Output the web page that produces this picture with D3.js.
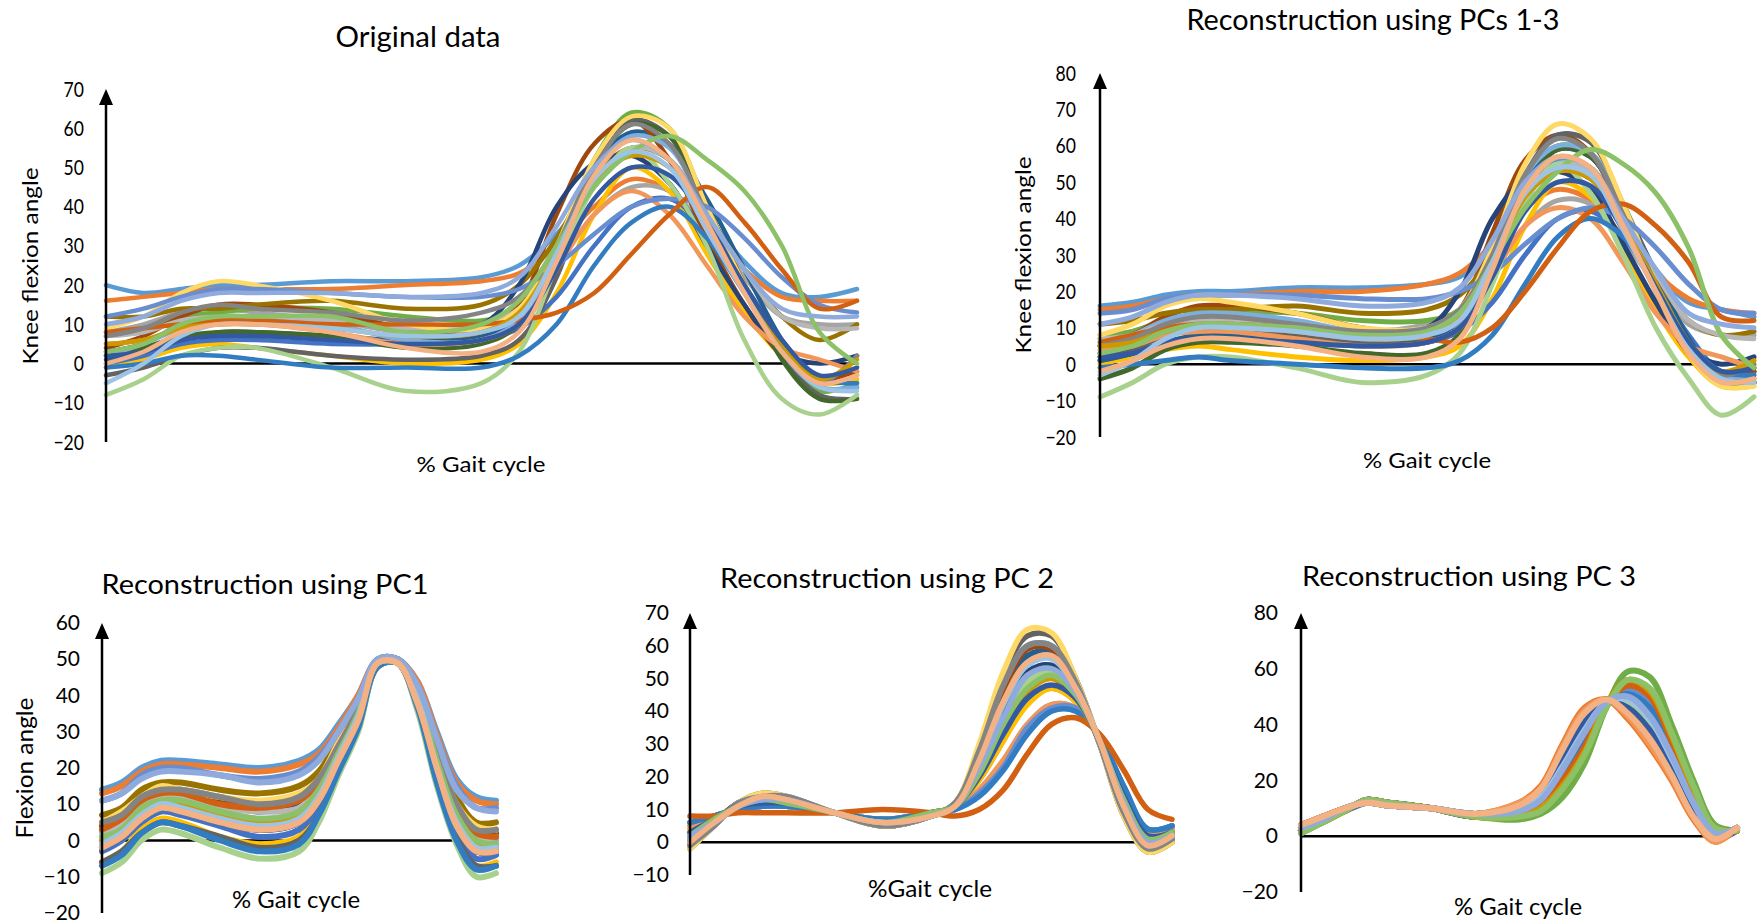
<!DOCTYPE html>
<meta charset="utf-8">
<style>
  body { margin: 0; background: #fff; }
  svg text { font-family: Lato, "Open Sans", sans-serif; fill: #000; }
</style>
<svg width="1763" height="924"></svg>
<script src="https://d3js.org/d3.v7.min.js"></script>
<script>
// % of gait cycle where each angle was read
var gaitPct = [0, 5, 10, 15, 20, 30, 40, 50, 55, 60, 65, 70, 75, 80, 85, 90, 95, 100]

// one colour per subject, in drawing order
var seriesColors = ['#5B9BD5', '#ED7D31', '#A5A5A5', '#FFC000', '#4472C4', '#70AD47', '#255E91', '#9E480E', '#636363',
  '#997300', '#264478', '#43682B', '#7CAFDD', '#F1975A', '#B7B7B7', '#FFD966', '#698ED0', '#A9D18E', '#327DC2',
  '#D26012', '#848484', '#CC9A00', '#335AA1', '#8CC168', '#9DC3E6', '#8FAADC', '#F4B183']

var originalAngles = [
  [20, 18, 19, 20, 20, 21, 21, 22, 25, 33, 45, 55, 52, 38, 26, 18, 17, 19],
  [16, 17, 18, 19, 19, 19, 20, 21, 23, 30, 40, 47, 44, 34, 24, 17, 16, 16],
  [8, 10, 13, 14, 13, 11, 8, 10, 15, 25, 38, 45, 44, 34, 22, 12, 10, 10],
  [-1, 1, 4, 5, 4, 2, 0, 1, 5, 18, 38, 50, 44, 28, 13, 2, -5, -4],
  [0, 2, 5, 6, 6, 5, 5, 6, 9, 17, 30, 40, 42, 34, 20, 6, -4, -3],
  [7, 9, 12, 13, 14, 14, 12, 11, 14, 30, 52, 64, 60, 40, 20, 3, -7, -5],
  [1, 3, 6, 8, 8, 7, 6, 7, 12, 30, 50, 59, 56, 42, 24, 6, -6, -6],
  [4, 7, 12, 15, 15, 13, 9, 8, 15, 38, 56, 62, 52, 32, 15, 2, -4, -2],
  [-3, -1, 2, 4, 4, 2, 1, 2, 6, 22, 48, 62, 58, 40, 20, 2, -8, -9],
  [12, 12, 14, 14, 15, 16, 14, 15, 20, 32, 48, 55, 52, 38, 24, 12, 6, 10],
  [3, 5, 10, 12, 12, 11, 9, 10, 20, 40, 51, 53, 46, 30, 15, 3, 0, 2],
  [2, 4, 7, 8, 8, 7, 4, 5, 10, 28, 50, 61, 58, 40, 20, 1, -9, -9],
  [2, 5, 9, 11, 11, 10, 6, 6, 11, 28, 49, 58, 55, 38, 20, 3, -6, -6],
  [5, 6, 9, 10, 10, 8, 5, 6, 10, 24, 38, 44, 38, 25, 12, 4, 1, -2],
  [7, 8, 11, 12, 12, 11, 9, 10, 14, 26, 45, 55, 52, 38, 24, 12, 9, 9],
  [9, 12, 18, 21, 20, 16, 10, 9, 14, 30, 52, 63, 60, 40, 20, 3, -5, -3],
  [12, 14, 17, 19, 19, 18, 17, 17, 19, 25, 33, 40, 42, 40, 32, 22, 15, 13],
  [-8, -4, 2, 4, 4, -1, -7, -5, 3, 25, 45, 55, 46, 30, 6, -9, -13, -8],
  [-1, 0, 2, 2, 1, -1, -1, -1, 2, 10, 25, 36, 40, 32, 18, 4, -4, -5],
  [8, 9, 10, 11, 11, 10, 10, 10, 11, 13, 18, 28, 38, 45, 36, 24, 14, 16],
  [7, 9, 13, 15, 14, 13, 11, 13, 17, 30, 50, 61, 56, 38, 19, 3, -5, 2],
  [5, 6, 9, 10, 10, 9, 7, 8, 13, 28, 46, 53, 50, 36, 20, 5, -4, 1],
  [2, 3, 6, 7, 7, 6, 5, 6, 10, 24, 42, 50, 48, 36, 20, 6, -3, -1],
  [3, 5, 10, 12, 12, 12, 8, 10, 16, 30, 45, 54, 58, 52, 44, 30, 8, 0],
  [-5, 0, 7, 10, 10, 9, 7, 8, 12, 28, 47, 54, 50, 34, 18, 3, -6, -7],
  [10, 12, 16, 18, 18, 18, 17, 18, 22, 35, 50, 57, 52, 38, 24, 14, 12, 12],
  [0, 3, 8, 10, 10, 8, 4, 3, 8, 26, 48, 57, 52, 36, 18, 3, -5, -3]
]

var pcs13Angles = [
  [16, 17, 19, 20, 20, 21, 21, 22, 24, 32, 45, 56, 54, 40, 26, 17, 15, 13],
  [15, 16, 18, 19, 19, 20, 20, 22, 25, 33, 43, 48, 45, 35, 25, 18, 15, 14],
  [8, 9, 12, 13, 13, 11, 9, 11, 15, 25, 38, 45, 44, 34, 22, 11, 8, 8],
  [0, 2, 4, 5, 4, 2, 1, 2, 5, 18, 38, 50, 46, 32, 15, 2, -6, -6],
  [1, 3, 6, 7, 7, 6, 5, 6, 9, 17, 30, 40, 42, 35, 22, 8, -2, -2],
  [7, 9, 12, 13, 14, 14, 12, 12, 15, 30, 52, 60, 58, 42, 22, 4, -4, -4],
  [1, 3, 6, 8, 8, 7, 6, 7, 12, 30, 50, 59, 57, 43, 25, 7, -4, -5],
  [5, 8, 13, 16, 16, 14, 10, 9, 15, 36, 56, 63, 58, 40, 20, 3, -4, -2],
  [2, 4, 8, 10, 10, 8, 6, 6, 10, 28, 52, 63, 61, 44, 24, 4, -5, -5],
  [11, 12, 14, 15, 15, 16, 14, 15, 19, 30, 46, 53, 51, 39, 25, 12, 8, 9],
  [3, 5, 10, 12, 12, 11, 9, 10, 20, 40, 51, 53, 48, 33, 17, 4, 0, 2],
  [-4, -1, 4, 6, 6, 5, 3, 3, 8, 26, 48, 59, 57, 42, 22, 4, -5, -5],
  [5, 8, 12, 14, 14, 12, 9, 10, 14, 32, 52, 60, 58, 42, 22, 4, -3, -3],
  [4, 5, 8, 9, 9, 7, 5, 6, 10, 24, 38, 43, 40, 28, 14, 5, 2, -1],
  [7, 8, 11, 12, 12, 11, 9, 10, 14, 26, 45, 55, 53, 40, 25, 12, 8, 7],
  [8, 11, 16, 18, 17, 14, 10, 10, 15, 32, 55, 66, 62, 44, 22, 3, -6, -6],
  [14, 15, 18, 19, 19, 19, 18, 18, 20, 25, 33, 40, 43, 40, 32, 22, 15, 14],
  [-9, -5, 0, 2, 2, -1, -5, -3, 3, 22, 45, 55, 47, 30, 10, -4, -14, -9],
  [-1, 0, 1, 2, 1, 0, -1, -1, 1, 8, 22, 35, 40, 35, 22, 6, -2, -3],
  [6, 8, 10, 11, 11, 10, 8, 7, 6, 10, 20, 32, 42, 44, 38, 28, 13, 12],
  [5, 7, 11, 13, 13, 11, 9, 10, 15, 30, 52, 62, 58, 41, 22, 4, -3, 0],
  [5, 6, 9, 10, 10, 9, 7, 8, 13, 28, 46, 53, 51, 38, 22, 6, -2, 1],
  [2, 3, 6, 7, 7, 6, 5, 6, 10, 24, 42, 50, 49, 37, 21, 6, -2, -1],
  [3, 5, 9, 11, 11, 10, 8, 9, 14, 28, 43, 53, 59, 55, 47, 32, 8, -1],
  [-3, 1, 7, 10, 10, 9, 7, 8, 12, 28, 47, 54, 52, 37, 20, 4, -4, -5],
  [11, 13, 17, 19, 19, 18, 16, 17, 21, 34, 50, 57, 54, 40, 26, 14, 11, 10],
  [-2, 1, 5, 7, 7, 5, 2, 2, 7, 26, 48, 57, 54, 38, 20, 3, -5, -4]
]

var pc1Angles = [
  [14, 16, 20, 22, 22, 21, 20, 22, 25, 32, 40, 50, 50, 44, 30, 17, 12, 11],
  [13, 15, 19, 21, 21, 20, 19, 21, 24, 31, 40, 50, 50, 44, 29, 16, 11, 10],
  [5, 7, 12, 14, 14, 12, 10, 12, 17, 26, 36, 49, 50, 41, 24, 10, 3, 3],
  [-6, -3, 3, 6, 5, 1, -1, 1, 8, 20, 32, 48, 49, 37, 17, 2, -7, -6],
  [-3, 0, 5, 8, 7, 4, 1, 3, 10, 22, 33, 48, 49, 38, 19, 4, -5, -4],
  [4, 7, 11, 14, 14, 11, 10, 12, 17, 26, 36, 49, 50, 41, 24, 10, 3, 2],
  [-1, 1, 7, 9, 9, 6, 3, 5, 12, 23, 33, 49, 49, 39, 20, 5, -3, -2],
  [4, 6, 11, 13, 13, 11, 9, 11, 16, 26, 36, 49, 50, 40, 23, 9, 2, 2],
  [-6, -3, 2, 5, 4, 1, -2, 0, 7, 20, 31, 48, 49, 37, 17, 1, -7, -7],
  [7, 9, 14, 16, 16, 14, 13, 15, 19, 28, 37, 49, 50, 42, 26, 12, 5, 5],
  [3, 5, 10, 13, 12, 10, 8, 10, 15, 25, 35, 49, 50, 40, 23, 8, 1, 1],
  [-2, 1, 6, 9, 8, 5, 3, 5, 11, 23, 33, 49, 49, 39, 20, 5, -3, -3],
  [1, 4, 9, 12, 11, 8, 6, 8, 14, 24, 35, 49, 49, 40, 22, 7, 0, 0],
  [-1, 2, 7, 10, 9, 6, 4, 6, 12, 23, 34, 49, 49, 39, 20, 5, -2, -2],
  [2, 5, 10, 12, 12, 9, 8, 9, 15, 25, 35, 49, 50, 40, 22, 8, 1, 1],
  [5, 8, 12, 15, 14, 12, 11, 13, 17, 27, 36, 49, 50, 41, 24, 10, 4, 3],
  [11, 13, 18, 20, 20, 18, 17, 19, 23, 30, 39, 50, 50, 43, 28, 15, 9, 9],
  [-9, -6, 0, 3, 2, -2, -5, -3, 5, 18, 30, 48, 49, 36, 15, -1, -10, -9],
  [-7, -4, 2, 5, 4, 0, -3, -1, 7, 19, 31, 48, 49, 37, 16, 0, -8, -7],
  [3, 6, 11, 13, 13, 10, 9, 11, 16, 26, 36, 49, 50, 40, 23, 9, 2, 1],
  [5, 7, 12, 14, 14, 12, 10, 12, 17, 26, 36, 49, 50, 41, 24, 10, 3, 3],
  [0, 3, 8, 11, 10, 7, 5, 7, 13, 24, 34, 49, 49, 39, 21, 6, -1, -1],
  [-2, 1, 6, 9, 8, 5, 3, 5, 11, 22, 33, 49, 49, 38, 20, 4, -3, -3],
  [1, 3, 9, 11, 11, 8, 6, 8, 14, 24, 35, 49, 49, 40, 22, 7, 0, -1],
  [-1, 2, 7, 10, 9, 6, 4, 6, 12, 23, 34, 49, 49, 39, 20, 5, -2, -2],
  [11, 13, 17, 19, 19, 18, 16, 18, 22, 30, 39, 50, 50, 43, 28, 14, 9, 8],
  [-2, 1, 6, 9, 8, 5, 3, 5, 11, 22, 33, 49, 49, 38, 20, 4, -3, -3]
]

var pc2Angles = [
  [1, 6, 11, 13, 13, 9, 6, 8, 11, 24, 40, 52, 54, 46, 31, 12, 0, 2],
  [4, 7, 11, 12, 12, 9, 6, 9, 11, 19, 31, 43, 47, 43, 31, 14, 2, 4],
  [5, 8, 10, 11, 11, 9, 7, 9, 10, 16, 25, 36, 42, 41, 32, 16, 3, 5],
  [4, 7, 10, 12, 12, 9, 6, 9, 11, 19, 31, 42, 47, 43, 31, 14, 2, 3],
  [6, 8, 10, 11, 11, 9, 7, 9, 10, 15, 23, 35, 41, 41, 32, 17, 4, 5],
  [0, 6, 11, 14, 13, 9, 6, 8, 11, 25, 43, 55, 57, 47, 31, 11, -1, 2],
  [0, 6, 12, 14, 13, 9, 5, 8, 12, 26, 45, 57, 58, 48, 30, 10, -1, 1],
  [0, 6, 12, 14, 13, 9, 5, 8, 12, 27, 46, 59, 59, 48, 30, 10, -2, 1],
  [-2, 5, 12, 15, 14, 9, 5, 8, 12, 29, 51, 63, 63, 50, 30, 8, -3, 0],
  [2, 7, 11, 13, 12, 9, 6, 9, 11, 21, 36, 47, 51, 45, 31, 13, 1, 3],
  [1, 6, 11, 13, 13, 9, 6, 8, 11, 24, 40, 52, 54, 46, 31, 12, 0, 1],
  [2, 6, 11, 13, 13, 9, 6, 8, 11, 23, 38, 51, 53, 46, 31, 12, 0, 2],
  [-1, 5, 12, 14, 14, 9, 5, 8, 12, 28, 48, 60, 60, 49, 30, 9, -2, 1],
  [5, 8, 10, 11, 11, 9, 7, 9, 10, 16, 25, 36, 42, 41, 32, 16, 3, 4],
  [2, 6, 11, 13, 12, 9, 6, 8, 11, 22, 37, 49, 52, 45, 31, 12, 0, 2],
  [-2, 5, 12, 15, 14, 9, 5, 8, 12, 30, 52, 65, 64, 50, 30, 8, -3, 0],
  [6, 8, 10, 11, 11, 9, 7, 9, 10, 15, 23, 35, 41, 41, 32, 17, 4, 5],
  [2, 6, 11, 13, 12, 9, 6, 8, 11, 22, 37, 49, 52, 45, 31, 12, 1, 2],
  [6, 8, 10, 11, 11, 9, 7, 9, 10, 14, 22, 33, 40, 40, 32, 17, 4, 5],
  [8, 8, 9, 9, 9, 9, 10, 9, 8, 10, 16, 27, 36, 38, 33, 22, 10, 7],
  [-1, 5, 12, 14, 14, 9, 5, 8, 12, 28, 48, 60, 60, 49, 30, 9, -2, 1],
  [3, 7, 11, 13, 12, 9, 6, 9, 11, 20, 34, 46, 50, 44, 31, 13, 1, 3],
  [3, 7, 11, 12, 12, 9, 6, 9, 11, 20, 33, 44, 48, 44, 31, 14, 2, 3],
  [2, 7, 11, 13, 12, 9, 6, 9, 11, 21, 36, 47, 51, 45, 31, 13, 1, 3],
  [1, 6, 11, 14, 13, 9, 6, 8, 11, 24, 42, 54, 56, 47, 31, 11, -1, 2],
  [2, 6, 11, 13, 13, 9, 6, 8, 11, 23, 38, 51, 53, 46, 31, 12, 0, 2],
  [0, 6, 11, 14, 13, 9, 6, 8, 11, 25, 43, 55, 57, 47, 31, 11, -1, 2]
]

var pc3Angles = [
  [2, 6, 9, 13, 12, 10, 7, 9, 13, 23, 36, 47, 50, 44, 30, 13, 1, 2],
  [4, 7, 10, 12, 11, 10, 8, 12, 18, 33, 46, 49, 42, 32, 20, 6, -2, 3],
  [3, 6, 10, 12, 11, 10, 8, 10, 14, 25, 38, 48, 49, 42, 28, 12, 0, 3],
  [3, 6, 10, 12, 11, 10, 8, 10, 15, 27, 40, 48, 47, 40, 26, 10, 0, 3],
  [2, 6, 9, 12, 12, 10, 7, 9, 13, 23, 36, 47, 50, 44, 30, 13, 1, 3],
  [1, 5, 9, 13, 12, 10, 7, 6, 8, 14, 26, 46, 59, 57, 40, 20, 4, 2],
  [2, 6, 9, 13, 12, 10, 7, 9, 12, 23, 35, 47, 51, 46, 31, 14, 1, 2],
  [4, 7, 10, 12, 11, 10, 8, 11, 16, 30, 43, 49, 45, 36, 23, 8, -1, 3],
  [2, 6, 9, 13, 12, 10, 7, 8, 12, 22, 34, 47, 52, 47, 32, 14, 2, 2],
  [2, 5, 9, 13, 12, 10, 7, 7, 10, 18, 30, 47, 56, 52, 36, 17, 3, 2],
  [4, 7, 10, 12, 11, 10, 8, 11, 16, 30, 43, 49, 45, 36, 23, 8, -1, 2],
  [2, 6, 9, 13, 12, 10, 7, 8, 10, 19, 31, 47, 55, 51, 35, 17, 3, 2],
  [2, 6, 9, 13, 12, 10, 7, 9, 13, 23, 36, 47, 50, 44, 30, 13, 1, 2],
  [4, 7, 10, 12, 11, 10, 8, 12, 17, 32, 45, 49, 43, 33, 21, 7, -2, 3],
  [3, 6, 10, 12, 11, 10, 8, 9, 13, 24, 37, 48, 50, 43, 29, 12, 1, 3],
  [3, 6, 10, 12, 11, 10, 8, 10, 14, 26, 39, 48, 48, 41, 27, 11, 0, 3],
  [2, 6, 9, 13, 12, 10, 7, 8, 12, 22, 34, 47, 52, 47, 32, 14, 2, 2],
  [3, 6, 10, 12, 11, 10, 8, 10, 15, 27, 40, 48, 47, 40, 26, 10, 0, 3],
  [2, 6, 9, 13, 12, 10, 7, 9, 12, 23, 35, 47, 51, 46, 31, 14, 1, 2],
  [2, 6, 9, 13, 12, 10, 7, 8, 11, 20, 32, 47, 54, 50, 34, 16, 2, 2],
  [3, 6, 10, 12, 11, 10, 8, 9, 13, 24, 37, 48, 50, 43, 29, 12, 1, 3],
  [2, 5, 9, 13, 12, 10, 7, 7, 10, 18, 30, 47, 56, 52, 36, 17, 3, 2],
  [3, 6, 10, 12, 11, 10, 8, 10, 15, 28, 41, 48, 46, 38, 25, 9, 0, 3],
  [1, 5, 9, 13, 12, 10, 7, 7, 9, 17, 29, 46, 56, 53, 37, 18, 3, 2],
  [3, 6, 10, 12, 11, 10, 8, 10, 14, 25, 38, 48, 49, 42, 28, 12, 0, 3],
  [3, 6, 10, 12, 11, 10, 8, 9, 13, 24, 37, 48, 50, 43, 29, 12, 1, 3],
  [4, 7, 10, 12, 11, 10, 8, 11, 17, 31, 44, 49, 44, 35, 22, 7, -1, 3]
]

var ticksOriginal = [-20, -10, 0, 10, 20, 30, 40, 50, 60, 70]
var ticksPcs13 = [-20, -10, 0, 10, 20, 30, 40, 50, 60, 70, 80]
var ticksPc1 = [-20, -10, 0, 10, 20, 30, 40, 50, 60]
var ticksPc2 = [-10, 0, 10, 20, 30, 40, 50, 60, 70]
var ticksPc3 = [-20, 0, 20, 40, 60, 80]

var svg = d3.select('svg')

// layout of the five panels (pixel positions only, data lives above)
var panels = [
  { data: originalAngles, ticks: ticksOriginal, left: 106, right: 857, top: 89, bottom: 442, tickRight: 84,
    squeeze: 0.8, tickFont: 22, lw: 4.5,
    title: ['Original data', 418, 47, 165, 28], xlab: ['% Gait cycle', 481, 472, 129, 22],
    ylab: ['Knee flexion angle', 30, 266, 197, 22] },
  { data: pcs13Angles, ticks: ticksPcs13, left: 1100, right: 1754, top: 73, bottom: 437, tickRight: 1076,
    squeeze: 0.8, tickFont: 22, lw: 5,
    title: ['Reconstruction using PCs 1-3', 1373, 30, 373, 29], xlab: ['% Gait cycle', 1427, 468, 128, 22],
    ylab: ['Knee flexion angle', 1023, 255, 197, 22] },
  { data: pc1Angles, ticks: ticksPc1, left: 102, right: 496, top: 623, bottom: 913, tickRight: 80,
    squeeze: 1, tickFont: 21, lw: 6,
    title: ['Reconstruction using PC1', 265, 594, 327, 26], xlab: ['% Gait cycle', 296, 908, 128, 23],
    ylab: ['Flexion angle', 25, 768, 141, 24] },
  { data: pc2Angles, ticks: ticksPc2, left: 690, right: 1172, top: 613, bottom: 875, tickRight: 669,
    squeeze: 1, tickFont: 21, lw: 5.5,
    title: ['Reconstruction using PC 2', 887, 588, 334, 26], xlab: ['%Gait cycle', 930, 897, 124, 23] },
  { data: pc3Angles, ticks: ticksPc3, left: 1301, right: 1737, top: 613, bottom: 892, tickRight: 1278,
    squeeze: 1, tickFont: 21, lw: 6, xArrow: 1727,
    title: ['Reconstruction using PC 3', 1469, 586, 334, 26], xlab: ['% Gait cycle', 1518, 915, 128, 23] }
]

function addLabel(g, spec, rotate) {
  var t = g.append('text')
    .text(spec[0])
    .attr('text-anchor', 'middle')
    .attr('font-size', spec[4])
    .attr('textLength', spec[3])
    .attr('lengthAdjust', 'spacingAndGlyphs')
  if (rotate) {
    t.attr('transform', 'translate(' + spec[1] + ',' + spec[2] + ') rotate(-90)').attr('dy', '0.35em')
  } else {
    t.attr('x', spec[1]).attr('y', spec[2])
  }
}

function drawPanel(p) {
  var x = d3.scaleLinear().domain([0, 100]).range([p.left, p.right])
  var y = d3.scaleLinear().domain(d3.extent(p.ticks)).range([p.bottom, p.top])
  var g = svg.append('g')

  // horizontal zero line sits behind the curves
  var zeroEnd = p.xArrow ? p.xArrow - 10 : p.right
  g.append('line')
    .attr('x1', p.left).attr('x2', zeroEnd)
    .attr('y1', y(0)).attr('y2', y(0))
    .attr('stroke', '#000').attr('stroke-width', 2.5)
  if (p.xArrow) {
    g.append('path')
      .attr('d', 'M' + p.xArrow + ',' + y(0) + 'L' + (p.xArrow - 12) + ',' + (y(0) - 6) +
        'L' + (p.xArrow - 12) + ',' + (y(0) + 6) + 'Z')
      .attr('fill', '#000')
  }

  var line = d3.line()
    .x(function (d, i) { return x(gaitPct[i]) })
    .y(function (d) { return y(d) })
    .curve(d3.curveCatmullRom.alpha(0.5))

  g.append('g').selectAll('path')
    .data(p.data)
    .join('path')
    .attr('d', line)
    .attr('fill', 'none')
    .attr('stroke', function (d, i) { return seriesColors[i] })
    .attr('stroke-width', p.lw)
    .attr('stroke-linejoin', 'round')
    .attr('stroke-linecap', 'round')

  // y axis: tick labels only, the line + arrow are drawn by hand
  var pad = (p.left - p.tickRight) / p.squeeze
  var ax = g.append('g')
    .attr('transform', 'translate(' + p.left + ',0)')
    .call(d3.axisLeft(y).tickValues(p.ticks).tickSize(0).tickPadding(pad))
  ax.select('.domain').remove()
  ax.selectAll('text')
    .attr('font-size', p.tickFont)
    .attr('font-family', 'Lato, sans-serif')
    .attr('fill', '#000')
    .attr('transform', 'scale(' + p.squeeze + ',1)')

  g.append('line')
    .attr('x1', p.left).attr('x2', p.left)
    .attr('y1', p.bottom).attr('y2', p.top + 12)
    .attr('stroke', '#000').attr('stroke-width', 2.5)
  g.append('path')
    .attr('d', 'M' + p.left + ',' + p.top + 'L' + (p.left - 7) + ',' + (p.top + 16) +
      'L' + (p.left + 7) + ',' + (p.top + 16) + 'Z')
    .attr('fill', '#000')

  addLabel(g, p.title, false)
  addLabel(g, p.xlab, false)
  if (p.ylab) addLabel(g, p.ylab, true)
}

panels.forEach(drawPanel)
</script>
